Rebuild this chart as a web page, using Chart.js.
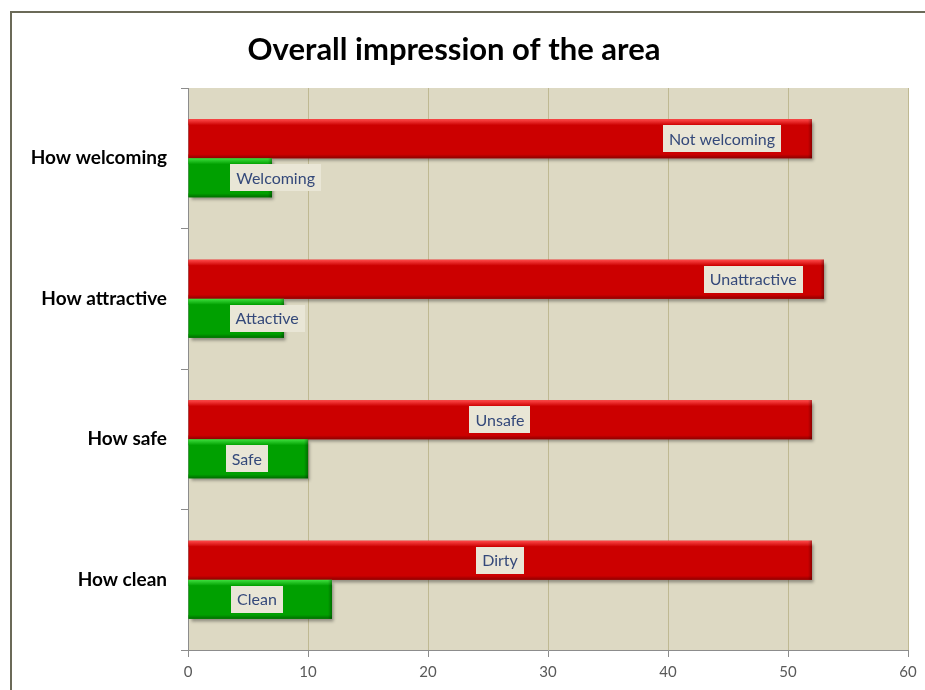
<!DOCTYPE html>
<html>
<head>
<meta charset="utf-8">
<script src="https://cdn.jsdelivr.net/npm/chart.js@4"></script>
<style>
  body { margin: 0; background: #ffffff; }
  canvas { display: block; }
</style>
</head>
<body>
<canvas id="chart" width="925" height="690"></canvas>
<script>
// data
const categories = ['How welcoming', 'How attractive', 'How safe', 'How clean'];
const negativeNames = ['Not welcoming', 'Unattractive', 'Unsafe', 'Dirty'];
const negativeValues = [52, 53, 52, 52];
const positiveNames = ['Welcoming', 'Attactive', 'Safe', 'Clean'];
const positiveValues = [7, 8, 10, 12];
const xTicks = [0, 10, 20, 30, 40, 50, 60];

// where the label boxes sit along the value axis (layout, not data)
const negativeLabelAt = [44.5, 47.1, 26, 26];
const positiveLabelAt = [7.3, 6.6, 4.9, 5.75];

const barStyles = [
    { body: '#cc0000', light: '#ff4a4a', dark: '#8f0000' },
    { body: '#00a000', light: '#3fe03f', dark: '#006d00' }
];

// background of the plot + outer frame
const framePlugin = {
    id: 'frame',
    beforeDraw(chart) {
        const { ctx, chartArea: a } = chart;
        ctx.save();
        ctx.fillStyle = '#ffffff';
        ctx.fillRect(0, 0, chart.width, chart.height);
        ctx.strokeStyle = '#6b6a58';
        ctx.lineWidth = 2;
        ctx.strokeRect(11, 12, chart.width + 20, chart.height + 20);
        ctx.fillStyle = '#ddd9c3';
        ctx.fillRect(a.left, a.top, a.right - a.left, a.bottom - a.top);
        ctx.restore();
    }
};

// shaded bars with labels in boxes
const barLookPlugin = {
    id: 'barLook',
    beforeDatasetsDraw(chart) {
        const ctx = chart.ctx;
        ctx.save();
        ctx.shadowColor = 'rgba(0,0,0,0.35)';
        ctx.shadowOffsetX = 2;
        ctx.shadowOffsetY = 3;
        ctx.shadowBlur = 3;
    },
    afterDatasetsDraw(chart) {
        const ctx = chart.ctx;
        ctx.restore();
        const xScale = chart.scales.x;

        chart.data.datasets.forEach((ds, d) => {
            const st = barStyles[d];
            chart.getDatasetMeta(d).data.forEach(bar => {
                const left = Math.min(bar.base, bar.x);
                const right = Math.max(bar.base, bar.x);
                const top = bar.y - bar.height / 2;
                const h = bar.height;
                ctx.save();
                let g = ctx.createLinearGradient(0, top, 0, top + 6);
                g.addColorStop(0, st.light);
                g.addColorStop(1, st.body);
                ctx.fillStyle = g;
                ctx.fillRect(left, top, right - left, 6);
                g = ctx.createLinearGradient(0, top + h - 4, 0, top + h);
                g.addColorStop(0, st.body);
                g.addColorStop(1, st.dark);
                ctx.fillStyle = g;
                ctx.fillRect(left, top + h - 4, right - left, 4);
                g = ctx.createLinearGradient(right - 4, 0, right, 0);
                g.addColorStop(0, 'rgba(0,0,0,0)');
                g.addColorStop(1, 'rgba(0,0,0,0.3)');
                ctx.fillStyle = g;
                ctx.fillRect(right - 4, top, 4, h);
                ctx.restore();
            });
        });

        // label boxes
        ctx.save();
        ctx.font = '16px Lato, "Open Sans", sans-serif';
        ctx.textAlign = 'center';
        ctx.textBaseline = 'middle';
        const boxes = [[negativeNames, negativeLabelAt], [positiveNames, positiveLabelAt]];
        boxes.forEach(([names, at], d) => {
            chart.getDatasetMeta(d).data.forEach((bar, i) => {
                const cx = xScale.getPixelForValue(at[i]);
                const w = ctx.measureText(names[i]).width + 12;
                const bh = 27;
                ctx.fillStyle = '#e9e6d6';
                ctx.fillRect(Math.round(cx - w / 2), Math.round(bar.y - bh / 2), Math.round(w), bh);
                ctx.fillStyle = '#34497a';
                ctx.fillText(names[i], cx, bar.y + 1);
            });
        });
        ctx.restore();
    }
};

Chart.defaults.font.family = 'Lato, "Open Sans", sans-serif';

new Chart(document.getElementById('chart'), {
    type: 'bar',
    data: {
        labels: categories,
        datasets: [
            {
                label: 'Negative',
                data: negativeValues,
                backgroundColor: barStyles[0].body,
                borderWidth: 0,
                categoryPercentage: 0.556,
                barPercentage: 1
            },
            {
                label: 'Positive',
                data: positiveValues,
                backgroundColor: barStyles[1].body,
                borderWidth: 0,
                categoryPercentage: 0.556,
                barPercentage: 1
            }
        ]
    },
    options: {
        indexAxis: 'y',
        responsive: false,
        animation: false,
        layout: { padding: { left: 0, right: 17, top: 0, bottom: 0 } },
        plugins: {
            legend: { display: false },
            tooltip: { enabled: false },
            title: {
                display: true,
                text: 'Overall impression of the area',
                color: '#000000',
                font: { size: 31, weight: 'bold' },
                padding: { top: 31, bottom: 19.8 }
            }
        },
        scales: {
            x: {
                min: 0,
                max: 60,
                afterBuildTicks: scale => { scale.ticks = xTicks.map(v => ({ value: v })); },
                afterFit: scale => { scale.height = 40; },
                grid: {
                    color: '#bfb992',
                    tickColor: '#8c8c8c',
                    tickLength: 7
                },
                border: { color: '#8c8c8c', width: 1 },
                ticks: {
                    color: '#595959',
                    font: { size: 15 },
                    padding: 6,
                    maxRotation: 0
                }
            },
            y: {
                afterFit: scale => { scale.width = 188; },
                grid: {
                    offset: true,
                    drawOnChartArea: false,
                    color: '#8c8c8c',
                    tickLength: 7
                },
                border: { color: '#8c8c8c', width: 1 },
                ticks: {
                    color: '#000000',
                    font: { size: 19, weight: 'bold' },
                    padding: 14
                }
            }
        }
    },
    plugins: [framePlugin, barLookPlugin]
});
</script>
</body>
</html>
